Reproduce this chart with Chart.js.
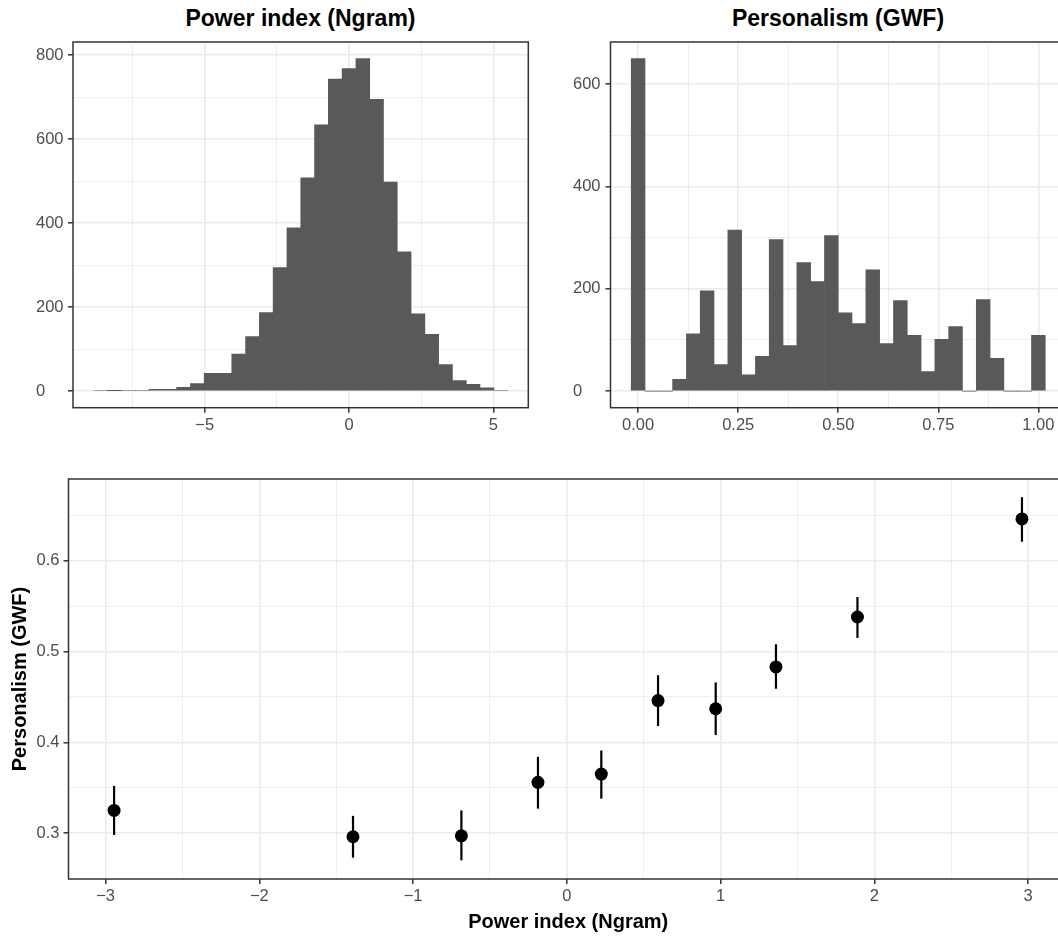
<!DOCTYPE html>
<html>
<head>
<meta charset="utf-8">
<title>Power index vs personalism</title>
<script src="https://cdn.jsdelivr.net/npm/chart.js@4.4.1/dist/chart.umd.min.js"></script>
<style>
  html, body { margin: 0; padding: 0; background: #fff; overflow: hidden; width: 1058px; height: 936px; }
  canvas { position: absolute; }
  .ttl { position: absolute; font: bold 23px "Liberation Sans", Arial, sans-serif; line-height: 23px; text-align: center; color: #000; white-space: nowrap; }
</style>
</head>
<body>
<div class="ttl" style="left:73px; width:455px; top:7px;">Power index (Ngram)</div>
<div class="ttl" style="left:610px; width:456px; top:7px;">Personalism (GWF)</div>
<canvas id="histPower" width="540" height="430" style="left:0; top:0;"></canvas>
<canvas id="histPers" width="540" height="430" style="left:540px; top:0;"></canvas>
<canvas id="scatterChart" width="1080" height="496" style="left:0; top:440px;"></canvas>
<script>
// --- Histogram: Power index (Ngram), 30 bins ---
const powerBins = [-8.599, -8.121, -7.643, -7.166, -6.688, -6.210, -5.732, -5.255, -4.777, -4.299,
  -3.822, -3.344, -2.866, -2.389, -1.911, -1.433, -0.955, -0.478, 0, 0.478,
  0.955, 1.433, 1.911, 2.389, 2.866, 3.344, 3.822, 4.299, 4.777, 5.255];
const powerCounts = [2, 1, 2, 2, 4, 4, 9, 18, 42, 42,
  88, 130, 187, 294, 389, 508, 634, 743, 768, 792,
  695, 498, 332, 184, 135, 63, 25, 16, 8, 2];
const powerXTicks = [-5, 0, 5];
const powerXLabels = ['\u22125', '0', '5'];
const powerXMinor = [-7.5, -2.5, 2.5];
const powerYTicks = [0, 200, 400, 600, 800];
const powerYLabels = ['0', '200', '400', '600', '800'];
const powerYMinor = [100, 300, 500, 700];

// --- Histogram: Personalism (GWF), 30 bins ---
const persBins = [0, 0.0345, 0.069, 0.1034, 0.1379, 0.1724, 0.2069, 0.2414, 0.2759, 0.3103,
  0.3448, 0.3793, 0.4138, 0.4483, 0.4828, 0.5172, 0.5517, 0.5862, 0.6207, 0.6552,
  0.6897, 0.7241, 0.7586, 0.7931, 0.8276, 0.8621, 0.8966, 0.931, 0.9655, 1.0];
const persCounts = [650, 0, 0, 23, 112, 196, 52, 315, 32, 68,
  296, 89, 251, 214, 304, 153, 132, 237, 93, 177,
  109, 38, 101, 126, 0, 179, 64, 0, 0, 109];
const persXTicks = [0, 0.25, 0.5, 0.75, 1];
const persXLabels = ['0.00', '0.25', '0.50', '0.75', '1.00'];
const persXMinor = [0.125, 0.375, 0.625, 0.875];
const persYTicks = [0, 200, 400, 600];
const persYLabels = ['0', '200', '400', '600'];
const persYMinor = [100, 300, 500];

// --- Binned means with 95% intervals ---
const binX = [-2.945, -1.391, -0.686, -0.188, 0.224, 0.593, 0.968, 1.360, 1.890, 2.960];
const binMean = [0.325, 0.296, 0.297, 0.356, 0.365, 0.446, 0.437, 0.483, 0.538, 0.646];
const binLow = [0.298, 0.273, 0.270, 0.327, 0.338, 0.418, 0.408, 0.459, 0.515, 0.621];
const binHigh = [0.352, 0.319, 0.325, 0.384, 0.391, 0.474, 0.466, 0.508, 0.560, 0.670];
const scatXTicks = [-3, -2, -1, 0, 1, 2, 3];
const scatXLabels = ['\u22123', '\u22122', '\u22121', '0', '1', '2', '3'];
const scatXMinor = [-2.5, -1.5, -0.5, 0.5, 1.5, 2.5];
const scatYTicks = [0.3, 0.4, 0.5, 0.6];
const scatYLabels = ['0.3', '0.4', '0.5', '0.6'];
const scatYMinor = [0.35, 0.45, 0.55, 0.65];

const FONT = '"Liberation Sans", Arial, sans-serif';
Chart.defaults.font.family = FONT;
Chart.defaults.animation = false;

const near = (a, b) => Math.abs(a - b) < 1e-9;

// ggplot-like panel border, drawn on top of the data
const panelBorder = {
  id: 'panelBorder',
  afterDatasetsDraw(chart) {
    const { ctx, chartArea: a } = chart;
    ctx.save();
    ctx.strokeStyle = '#333333';
    ctx.lineWidth = 1.5;
    ctx.strokeRect(a.left, a.top, a.right - a.left, a.bottom - a.top);
    ctx.restore();
  }
};

// vertical interval lines for the binned means
const errorBars = {
  id: 'errorBars',
  beforeDatasetsDraw(chart) {
    const { ctx, scales: { x, y } } = chart;
    ctx.save();
    ctx.strokeStyle = '#000';
    ctx.lineWidth = 2.2;
    binX.forEach((v, i) => {
      const px = x.getPixelForValue(v);
      ctx.beginPath();
      ctx.moveTo(px, y.getPixelForValue(binLow[i]));
      ctx.lineTo(px, y.getPixelForValue(binHigh[i]));
      ctx.stroke();
    });
    ctx.restore();
  }
};

// builds a scale with major + minor grid lines, labels only on the majors
function makeScale(o) {
  const all = o.major.concat(o.minor);
  const isMajor = v => o.major.some(m => near(m, v));
  return {
    type: 'linear',
    min: o.min,
    max: o.max,
    offset: false,
    border: { display: false },
    afterBuildTicks: s => { s.ticks = all.map(v => ({ value: v })); },
    afterFit: s => { if (o.width != null) s.width = o.width; if (o.height != null) s.height = o.height; },
    grid: {
      offset: false,
      color: '#EBEBEB',
      lineWidth: c => (c.tick && isMajor(c.tick.value)) ? 1.6 : 0.8,
      tickColor: c => (c.tick && isMajor(c.tick.value)) ? '#333333' : 'rgba(0,0,0,0)',
      tickWidth: 1.5,
      tickLength: 5
    },
    ticks: {
      autoSkip: false,
      maxRotation: 0,
      padding: o.pad,
      crossAlign: o.crossAlign || 'near',
      color: '#4D4D4D',
      font: { size: 16.5 },
      callback: v => {
        const i = o.major.findIndex(m => near(m, v));
        return i >= 0 ? o.labels[i] : '';
      }
    },
    title: o.title || { display: false }
  };
}

function histogram(id, bins, counts, xs, ys, padding) {
  return new Chart(document.getElementById(id), {
    type: 'bar',
    data: {
      datasets: [{
        data: bins.map((b, i) => ({ x: b, y: counts[i] })),
        backgroundColor: '#595959',
        borderWidth: 0,
        barPercentage: 1,
        categoryPercentage: 1
      }]
    },
    options: {
      responsive: false,
      devicePixelRatio: 1,
      layout: { padding: padding },
      plugins: { legend: { display: false }, tooltip: { enabled: false } },
      scales: { x: makeScale(xs), y: makeScale(ys) }
    },
    plugins: [panelBorder]
  });
}

// y labels in the two histograms are left-aligned in the reference
histogram('histPower', powerBins, powerCounts,
  { min: -9.56, max: 6.21, major: powerXTicks, labels: powerXLabels, minor: powerXMinor, height: 22.3, pad: 3 },
  { min: -39.6, max: 831.6, major: powerYTicks, labels: powerYLabels, minor: powerYMinor, width: 37, pad: 5, crossAlign: 'far' },
  { top: 42, right: 11.7, left: 36, bottom: 0 });

histogram('histPers', persBins, persCounts,
  { min: -0.069, max: 1.069, major: persXTicks, labels: persXLabels, minor: persXMinor, height: 22.3, pad: 3 },
  { min: -32.5, max: 682.5, major: persYTicks, labels: persYLabels, minor: persYMinor, width: 37.5, pad: 5, crossAlign: 'far' },
  { top: 42, right: 14, left: 33, bottom: 0 });

new Chart(document.getElementById('scatterChart'), {
  type: 'scatter',
  data: {
    datasets: [{
      data: binX.map((x, i) => ({ x: x, y: binMean[i] })),
      backgroundColor: '#000',
      borderWidth: 0,
      pointRadius: 6.5
    }]
  },
  options: {
    responsive: false,
    devicePixelRatio: 1,
    layout: { padding: { top: 39, right: 12, left: 0, bottom: 0 } },
    plugins: { legend: { display: false }, tooltip: { enabled: false } },
    scales: {
      x: makeScale({
        min: -3.2415, max: 3.2595, major: scatXTicks, labels: scatXLabels, minor: scatXMinor, height: 57, pad: 3,
        title: { display: true, text: 'Power index (Ngram)', color: '#000', font: { size: 20, weight: 'bold' }, padding: { top: 4, bottom: 2 } }
      }),
      y: makeScale({
        min: 0.2495, max: 0.690, major: scatYTicks, labels: scatYLabels, minor: scatYMinor, width: 68.5, pad: 4,
        title: { display: true, text: 'Personalism (GWF)', color: '#000', font: { size: 20, weight: 'bold' }, padding: { top: 8, bottom: 0 } }
      })
    }
  },
  plugins: [errorBars, panelBorder]
});
</script>
</body>
</html>
